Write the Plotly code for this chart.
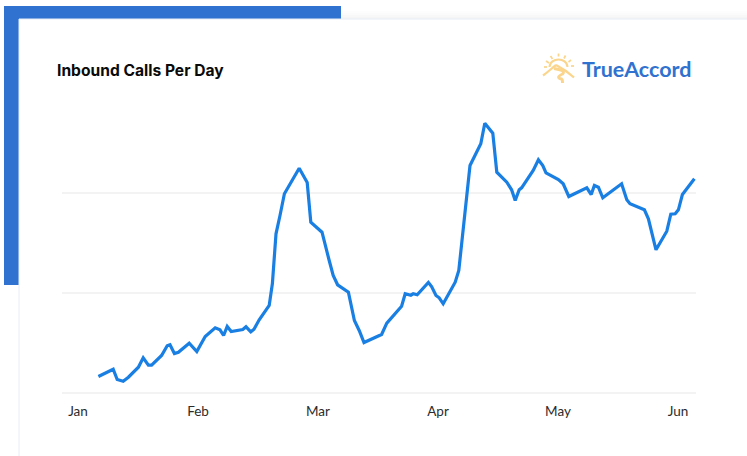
import plotly.graph_objects as go

days = [5.1,8.8,9.8,11.3,12.6,15.1,16.3,17.6,18.4,20.9,22.3,23,24.1,25.1,27.8,29.7,31.8,34.3,35.5,36.4,37.3,38.3,41.2,42,43.2,44,45.3,47.8,48.6,49.5,50.5,51.6,55.3,56.3,57.3,58.2,61,62.8,63.8,64.9,67.6,69.1,70.3,71.5,74.3,75.9,77.2,80.9,81.8,83.2,83.8,84.8,87.6,88.4,89.5,90.3,91.3,94.3,95.2,95.5,97.2,98,100.7,101.7,103.7,104.7,107.2,108.4,109.3,110.3,110.9,113.8,115.1,116.2,117,120.1,121.3,122.7,127.2,128.3,129.1,130.1,131.2,135.9,137.2,138,141.6,142.6,144.5,147.2,148.2,149.3,150.1,151.1,154.1]
calls = [160,233,130,113,153,253,347,273,273,370,467,477,390,403,493,410,560,647,627,570,660,610,630,657,607,633,727,870,1090,1587,1770,1987,2243,2170,2100,1703,1603,1320,1170,1077,1003,720,620,500,547,580,693,863,987,973,987,977,1100,1060,970,947,887,1103,1220,1340,2020,2270,2487,2693,2593,2203,2103,2027,1920,2027,2047,2220,2327,2270,2197,2130,2087,1960,2047,1980,2070,2053,1947,2087,1927,1887,1827,1737,1427,1613,1783,1787,1827,1980,2137]

month_days = [0, 30, 60, 90, 120, 150]
month_labels = ["Jan", "Feb", "Mar", "Apr", "May", "Jun"]
grid_values = [0, 1000, 2000]

W, H = 747, 456
def px(v): return v / W
def py(v): return 1 - v / H

fig = go.Figure()
fig.add_trace(go.Scatter(x=days, y=calls, mode="lines", line=dict(color="#1a7fe3", width=3.2), hoverinfo="skip", showlegend=False, cliponaxis=False))

def rect(x0, x1, ytop, ybot, color, line=None):
    return dict(type="rect", xref="paper", yref="paper", x0=px(x0), x1=px(x1), y0=py(ybot), y1=py(ytop),
                fillcolor=color, line=line or dict(width=0), layer="below")

shapes = [rect(4, 341, 6, 285, "#2f72d0")]
for top, col in [(11, "#fdfdfd"), (13, "#fbfbfb"), (15, "#f8f8f8"), (17, "#f5f5f5")]:
    shapes.append(rect(341, 747, top, 19, col))
shapes.append(rect(19, 760, 19, 470, "#ffffff", dict(color="#e6edf7", width=1)))

sun = "#fbd58c"
def conv(path):
    out, toks, i = [], path.split(), 0
    while i < len(toks):
        if toks[i].isalpha():
            out.append(toks[i]); i += 1
        else:
            out += [f"{px(float(toks[i])):.5f}", f"{py(float(toks[i+1])):.5f}"]; i += 2
    return " ".join(out)
for p, w in [("M 549.5 67 C 550 57 567 57 567.5 67", 2),
             ("M 543 75.5 C 548 72 552 68 556 65", 2.2),
             ("M 556 65 C 562 68 568 72 574 77.5", 2.2),
             ("M 554 68.5 C 560 69.5 566 71 562.5 74 C 558 76 557 78 561.5 79 C 563 80 562.5 82 562.5 83", 3)]:
    shapes.append(dict(type="path", xref="paper", yref="paper", path=conv(p), line=dict(color=sun, width=w)))
for (a, b, c, d) in [(544,67,547,67),(546,61,549,63),(550.5,56,552.5,59),(558.5,53.5,558.5,56.5),(565.5,55.5,564,58.5),(571,60,568.5,62),(574,66,571,66)]:
    shapes.append(dict(type="line", xref="paper", yref="paper", x0=px(a), y0=py(b), x1=px(c), y1=py(d), line=dict(color=sun, width=1.7)))

fig.update_layout(
    width=W, height=H, margin=dict(l=0, r=0, t=0, b=0),
    paper_bgcolor="#ffffff", plot_bgcolor="rgba(0,0,0,0)",
    font=dict(family="Inter, Lato, sans-serif"),
    shapes=shapes,
    xaxis=dict(domain=[px(62), px(696)], range=[-4, 154.5], tickmode="array", tickvals=month_days, ticktext=month_labels,
               showgrid=False, zeroline=False, showline=False, ticks="outside", ticklen=6, tickcolor="rgba(0,0,0,0)",
               tickfont=dict(size=13.5, color="#2b2b2b", family="Lato, sans-serif")),
    yaxis=dict(domain=[py(392.5), py(100.5)], range=[0, 2920], tickmode="array", tickvals=grid_values, showticklabels=False,
               showgrid=True, gridcolor="#f3f3f3", gridwidth=2, zeroline=True, zerolinecolor="#f3f3f3", zerolinewidth=2, showline=False, ticks=""),
    annotations=[
        dict(text="<b>Inbound Calls Per Day</b>", xref="paper", yref="paper", x=px(55), y=py(70), xanchor="left", yanchor="middle", showarrow=False,
             font=dict(family="Inter, sans-serif", size=15.6, color="#0a0a0a")),
        dict(text="<b>TrueAccord</b>", xref="paper", yref="paper", x=px(580), y=py(69), xanchor="left", yanchor="middle", showarrow=False,
             font=dict(family="Lato, sans-serif", size=21.5, color="#2f72d0")),
    ],
)
fig.write_html("out.html", config={"displayModeBar": False},
               post_script="document.body.style.margin='0';document.body.style.overflow='hidden';")
